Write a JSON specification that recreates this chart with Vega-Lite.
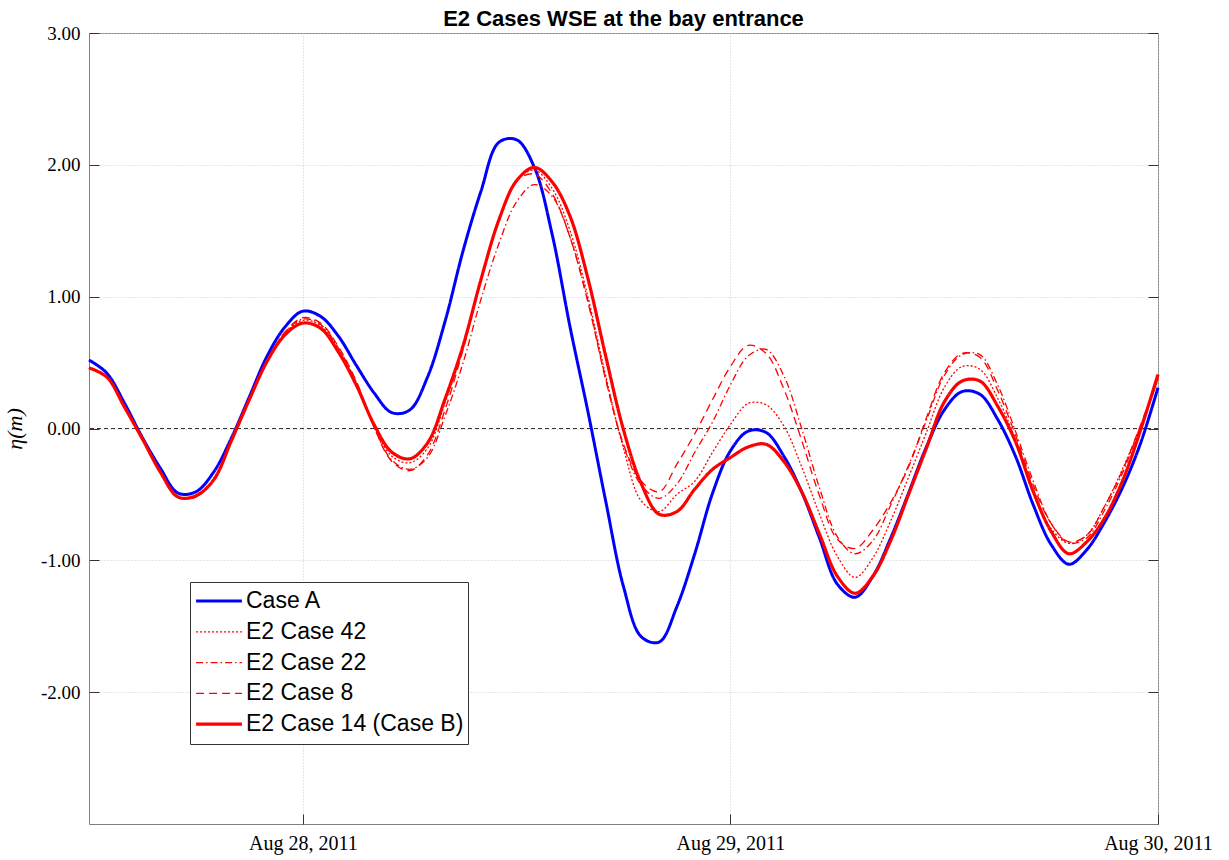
{
  "$schema": "https://vega.github.io/schema/vega-lite/v6.json",
  "width": 1069,
  "height": 791,
  "autosize": {"type": "none"},
  "padding": {"left": 89, "top": 33, "right": 71, "bottom": 36},
  "background": "white",
  "title": {"text": "E2 Cases WSE at the bay entrance", "font": "Liberation Sans", "fontSize": 22, "fontWeight": "bold", "anchor": "middle", "offset": -7, "color": "#000"},
  "data": {"values": [
    {"t": "2011-08-27T12:00", "A": 0.52, "c42": 0.46, "c22": 0.46, "c8": 0.46, "c14": 0.46},
    {"t": "2011-08-27T13:00", "A": 0.42, "c42": 0.39, "c22": 0.39, "c8": 0.39, "c14": 0.39},
    {"t": "2011-08-27T14:00", "A": 0.19, "c42": 0.17, "c22": 0.17, "c8": 0.17, "c14": 0.16},
    {"t": "2011-08-27T15:00", "A": -0.07, "c42": -0.08, "c22": -0.08, "c8": -0.08, "c14": -0.08},
    {"t": "2011-08-27T16:00", "A": -0.30, "c42": -0.33, "c22": -0.33, "c8": -0.33, "c14": -0.33},
    {"t": "2011-08-27T17:00", "A": -0.49, "c42": -0.52, "c22": -0.52, "c8": -0.52, "c14": -0.52},
    {"t": "2011-08-27T18:00", "A": -0.48, "c42": -0.51, "c22": -0.52, "c8": -0.52, "c14": -0.51},
    {"t": "2011-08-27T19:00", "A": -0.33, "c42": -0.38, "c22": -0.38, "c8": -0.38, "c14": -0.39},
    {"t": "2011-08-27T20:00", "A": -0.07, "c42": -0.09, "c22": -0.10, "c8": -0.10, "c14": -0.09},
    {"t": "2011-08-27T21:00", "A": 0.24, "c42": 0.22, "c22": 0.21, "c8": 0.21, "c14": 0.22},
    {"t": "2011-08-27T22:00", "A": 0.55, "c42": 0.51, "c22": 0.51, "c8": 0.51, "c14": 0.51},
    {"t": "2011-08-27T23:00", "A": 0.77, "c42": 0.72, "c22": 0.73, "c8": 0.73, "c14": 0.71},
    {"t": "2011-08-28T00:00", "A": 0.89, "c42": 0.82, "c22": 0.83, "c8": 0.84, "c14": 0.80},
    {"t": "2011-08-28T01:00", "A": 0.85, "c42": 0.78, "c22": 0.79, "c8": 0.80, "c14": 0.76},
    {"t": "2011-08-28T02:00", "A": 0.70, "c42": 0.60, "c22": 0.61, "c8": 0.62, "c14": 0.58},
    {"t": "2011-08-28T03:00", "A": 0.48, "c42": 0.35, "c22": 0.35, "c8": 0.36, "c14": 0.33},
    {"t": "2011-08-28T04:00", "A": 0.27, "c42": 0.02, "c22": 0.01, "c8": 0.01, "c14": 0.03},
    {"t": "2011-08-28T05:00", "A": 0.12, "c42": -0.21, "c22": -0.24, "c8": -0.25, "c14": -0.18},
    {"t": "2011-08-28T06:00", "A": 0.14, "c42": -0.26, "c22": -0.31, "c8": -0.32, "c14": -0.23},
    {"t": "2011-08-28T07:00", "A": 0.39, "c42": -0.15, "c22": -0.22, "c8": -0.20, "c14": -0.11},
    {"t": "2011-08-28T08:00", "A": 0.82, "c42": 0.20, "c22": 0.10, "c8": 0.15, "c14": 0.23},
    {"t": "2011-08-28T09:00", "A": 1.35, "c42": 0.62, "c22": 0.50, "c8": 0.60, "c14": 0.63},
    {"t": "2011-08-28T10:00", "A": 1.80, "c42": 1.13, "c22": 0.98, "c8": 1.12, "c14": 1.13},
    {"t": "2011-08-28T11:00", "A": 2.17, "c42": 1.58, "c22": 1.40, "c8": 1.57, "c14": 1.58},
    {"t": "2011-08-28T12:00", "A": 2.19, "c42": 1.88, "c22": 1.72, "c8": 1.88, "c14": 1.88},
    {"t": "2011-08-28T13:00", "A": 1.98, "c42": 1.96, "c22": 1.85, "c8": 1.93, "c14": 1.98},
    {"t": "2011-08-28T14:00", "A": 1.47, "c42": 1.82, "c22": 1.76, "c8": 1.78, "c14": 1.87},
    {"t": "2011-08-28T15:00", "A": 0.77, "c42": 1.50, "c22": 1.45, "c8": 1.45, "c14": 1.61},
    {"t": "2011-08-28T16:00", "A": 0.13, "c42": 1.00, "c22": 0.97, "c8": 0.96, "c14": 1.14},
    {"t": "2011-08-28T17:00", "A": -0.55, "c42": 0.40, "c22": 0.38, "c8": 0.37, "c14": 0.55},
    {"t": "2011-08-28T18:00", "A": -1.20, "c42": -0.15, "c22": -0.13, "c8": -0.12, "c14": -0.01},
    {"t": "2011-08-28T19:00", "A": -1.58, "c42": -0.55, "c22": -0.43, "c8": -0.40, "c14": -0.42},
    {"t": "2011-08-28T20:00", "A": -1.62, "c42": -0.63, "c22": -0.53, "c8": -0.48, "c14": -0.65},
    {"t": "2011-08-28T21:00", "A": -1.35, "c42": -0.50, "c22": -0.42, "c8": -0.27, "c14": -0.63},
    {"t": "2011-08-28T22:00", "A": -0.95, "c42": -0.40, "c22": -0.18, "c8": -0.04, "c14": -0.46},
    {"t": "2011-08-28T23:00", "A": -0.49, "c42": -0.18, "c22": 0.05, "c8": 0.22, "c14": -0.31},
    {"t": "2011-08-29T00:00", "A": -0.17, "c42": 0.03, "c22": 0.33, "c8": 0.47, "c14": -0.22},
    {"t": "2011-08-29T01:00", "A": -0.02, "c42": 0.19, "c22": 0.55, "c8": 0.63, "c14": -0.14},
    {"t": "2011-08-29T02:00", "A": -0.03, "c42": 0.18, "c22": 0.60, "c8": 0.57, "c14": -0.12},
    {"t": "2011-08-29T03:00", "A": -0.21, "c42": 0.02, "c22": 0.40, "c8": 0.30, "c14": -0.25},
    {"t": "2011-08-29T04:00", "A": -0.48, "c42": -0.29, "c22": 0.00, "c8": -0.09, "c14": -0.48},
    {"t": "2011-08-29T05:00", "A": -0.83, "c42": -0.65, "c22": -0.45, "c8": -0.51, "c14": -0.80},
    {"t": "2011-08-29T06:00", "A": -1.18, "c42": -0.97, "c22": -0.82, "c8": -0.84, "c14": -1.12},
    {"t": "2011-08-29T07:00", "A": -1.28, "c42": -1.13, "c22": -0.95, "c8": -0.91, "c14": -1.25},
    {"t": "2011-08-29T08:00", "A": -1.12, "c42": -0.98, "c22": -0.85, "c8": -0.77, "c14": -1.12},
    {"t": "2011-08-29T09:00", "A": -0.83, "c42": -0.70, "c22": -0.58, "c8": -0.56, "c14": -0.85},
    {"t": "2011-08-29T10:00", "A": -0.49, "c42": -0.37, "c22": -0.28, "c8": -0.29, "c14": -0.50},
    {"t": "2011-08-29T11:00", "A": -0.14, "c42": -0.03, "c22": 0.06, "c8": 0.08, "c14": -0.15},
    {"t": "2011-08-29T12:00", "A": 0.14, "c42": 0.31, "c22": 0.40, "c8": 0.42, "c14": 0.20},
    {"t": "2011-08-29T13:00", "A": 0.28, "c42": 0.47, "c22": 0.56, "c8": 0.57, "c14": 0.36},
    {"t": "2011-08-29T14:00", "A": 0.26, "c42": 0.45, "c22": 0.56, "c8": 0.54, "c14": 0.36},
    {"t": "2011-08-29T15:00", "A": 0.07, "c42": 0.23, "c22": 0.33, "c8": 0.29, "c14": 0.17},
    {"t": "2011-08-29T16:00", "A": -0.21, "c42": -0.08, "c22": -0.02, "c8": -0.05, "c14": -0.10},
    {"t": "2011-08-29T17:00", "A": -0.58, "c42": -0.46, "c22": -0.40, "c8": -0.43, "c14": -0.48},
    {"t": "2011-08-29T18:00", "A": -0.88, "c42": -0.76, "c22": -0.72, "c8": -0.72, "c14": -0.78},
    {"t": "2011-08-29T19:00", "A": -1.03, "c42": -0.87, "c22": -0.87, "c8": -0.86, "c14": -0.95},
    {"t": "2011-08-29T20:00", "A": -0.92, "c42": -0.81, "c22": -0.83, "c8": -0.81, "c14": -0.86},
    {"t": "2011-08-29T21:00", "A": -0.71, "c42": -0.59, "c22": -0.62, "c8": -0.59, "c14": -0.68},
    {"t": "2011-08-29T22:00", "A": -0.45, "c42": -0.31, "c22": -0.34, "c8": -0.32, "c14": -0.40},
    {"t": "2011-08-29T23:00", "A": -0.12, "c42": 0.01, "c22": 0.01, "c8": 0.02, "c14": -0.02},
    {"t": "2011-08-30T00:00", "A": 0.31, "c42": 0.37, "c22": 0.37, "c8": 0.38, "c14": 0.41}
  ]},
  "resolve": {"axis": {"y": "independent"}},
  "layer": [
    {
      "mark": {"type": "rule", "color": "#333333", "strokeWidth": 1, "strokeDash": [4, 3]},
      "encoding": {
        "y": {"datum": 0, "type": "quantitative", "scale": {"domain": [-3, 3], "nice": false},
          "axis": {"orient": "right", "values": [-2, -1, 0, 1, 2, 3], "labels": false, "grid": false, "ticks": true, "tickSize": -10, "tickColor": "#333333", "title": null, "domain": false}}
      }
    },
    {
      "transform": [{"fold": ["A", "c42", "c22", "c8", "c14"], "as": ["series", "eta"]}],
      "mark": {"type": "line", "interpolate": "catmull-rom"},
      "encoding": {
        "x": {"field": "t", "type": "temporal",
          "scale": {"domain": [{"year": 2011, "month": 8, "date": 27, "hours": 12}, {"year": 2011, "month": 8, "date": 30}], "nice": false},
          "axis": {"values": [{"year": 2011, "month": 8, "date": 28}, {"year": 2011, "month": 8, "date": 29}, {"year": 2011, "month": 8, "date": 30}],
            "format": "%b %d, %Y", "title": null, "labelFont": "Liberation Serif", "labelFontSize": 20, "labelColor": "#000",
            "tickSize": -10, "tickColor": "#333333", "labelPadding": 19, "grid": true, "gridColor": "#cccccc", "gridDash": [1, 2], "domain": false, "labelBound": false, "labelOverlap": false, "labelFlush": false}},
        "y": {"field": "eta", "type": "quantitative", "scale": {"domain": [-3, 3], "nice": false},
          "axis": {"values": [-2, -1, 0, 1, 2, 3], "labelExpr": "replace(format(datum.value, '.2f'), '\u2212', '-')", "title": "η(m)", "titleFont": "Liberation Serif", "titleFontStyle": "italic", "titleFontWeight": "normal", "titleFontSize": 22, "titleColor": "#000", "titlePadding": 14,
            "labelFont": "Liberation Serif", "labelFontSize": 19, "labelColor": "#000", "tickSize": -10, "tickColor": "#333333", "labelPadding": 19, "grid": true, "gridColor": "#cccccc", "gridDash": [1, 2], "domain": false}},
        "color": {"field": "series", "type": "nominal", "sort": ["A", "c42", "c22", "c8", "c14"],
          "scale": {"domain": ["A", "c42", "c22", "c8", "c14"], "range": ["#0000ff", "#ff0000", "#ff0000", "#ff0000", "#ff0000"]},
          "legend": {"title": null, "labelExpr": "{'A': 'Case A', 'c42': 'E2 Case 42', 'c22': 'E2 Case 22', 'c8': 'E2 Case 8', 'c14': 'E2 Case 14 (Case B)'}[datum.label]"}},
        "strokeDash": {"field": "series", "type": "nominal", "sort": ["A", "c42", "c22", "c8", "c14"],
          "scale": {"domain": ["A", "c42", "c22", "c8", "c14"], "range": [[1, 0], [2, 2], [7, 3, 1.5, 3], [8, 5], [1, 0]]},
          "legend": {"title": null, "labelExpr": "{'A': 'Case A', 'c42': 'E2 Case 42', 'c22': 'E2 Case 22', 'c8': 'E2 Case 8', 'c14': 'E2 Case 14 (Case B)'}[datum.label]"}},
        "strokeWidth": {"field": "series", "type": "nominal", "sort": ["A", "c42", "c22", "c8", "c14"],
          "scale": {"type": "ordinal", "domain": ["A", "c42", "c22", "c8", "c14"], "range": [3, 1.3, 1.3, 1.3, 3.2]},
          "legend": {"title": null, "labelExpr": "{'A': 'Case A', 'c42': 'E2 Case 42', 'c22': 'E2 Case 22', 'c8': 'E2 Case 8', 'c14': 'E2 Case 14 (Case B)'}[datum.label]"}}
      }
    }
  ],
  "config": {
    "view": {"stroke": "#808080", "strokeWidth": 1},
    "legend": {
      "orient": "none", "legendX": 101, "legendY": 549,
      "labelFont": "Liberation Sans", "labelFontSize": 23, "labelColor": "#000", "labelLimit": 400,
      "symbolType": "stroke", "symbolSize": 2100, "clipHeight": 30, "rowPadding": 0.8,
      "labelOffset": 2, "padding": 4, "strokeColor": "#333333", "fillColor": "#ffffff", "cornerRadius": 0
    }
  }
}
